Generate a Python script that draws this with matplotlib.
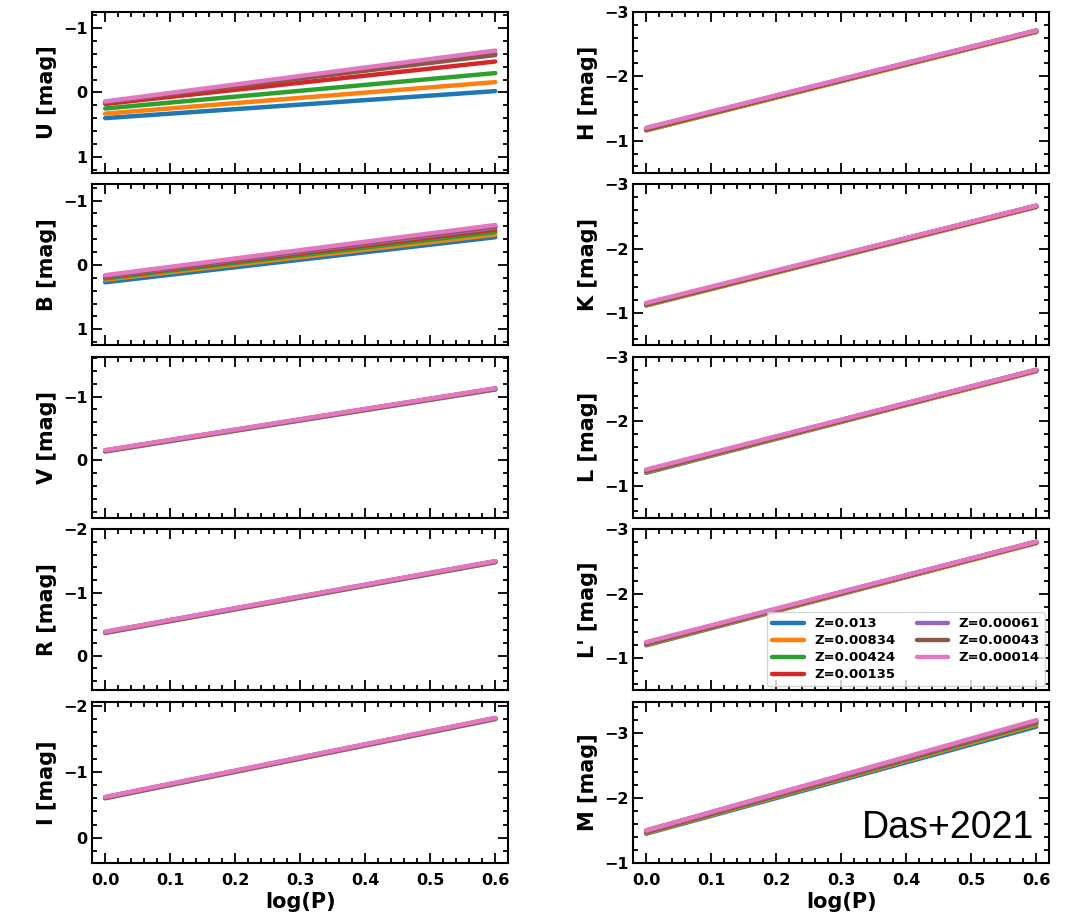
import numpy as np
import matplotlib
matplotlib.use("Agg")
import matplotlib.pyplot as plt
from matplotlib.ticker import MultipleLocator, AutoMinorLocator

# metallicities (legend labels)
Z_labels = ["Z=0.013", "Z=0.00834", "Z=0.00424", "Z=0.00135",
            "Z=0.00061", "Z=0.00043", "Z=0.00014"]

# period range
logP = [0.0, 0.6]

# magnitudes at logP = 0.0 and logP = 0.6 for each Z
U_start = [0.40, 0.33, 0.25, 0.18, 0.15, 0.15, 0.14]
U_end   = [-0.02, -0.16, -0.30, -0.48, -0.60, -0.58, -0.65]
B_start = [0.27, 0.23, 0.21, 0.19, 0.18, 0.17, 0.16]
B_end   = [-0.43, -0.47, -0.51, -0.55, -0.58, -0.60, -0.62]
V_start = [-0.14, -0.145, -0.15, -0.15, -0.155, -0.155, -0.16]
V_end   = [-1.11, -1.115, -1.12, -1.12, -1.125, -1.125, -1.13]
R_start = [-0.36, -0.365, -0.37, -0.37, -0.375, -0.375, -0.38]
R_end   = [-1.48, -1.485, -1.49, -1.49, -1.495, -1.495, -1.50]
I_start = [-0.60, -0.605, -0.61, -0.61, -0.615, -0.615, -0.62]
I_end   = [-1.80, -1.805, -1.81, -1.81, -1.815, -1.815, -1.82]
H_start = [-1.16, -1.16, -1.17, -1.18, -1.19, -1.19, -1.20]
H_end   = [-2.69, -2.69, -2.70, -2.70, -2.71, -2.71, -2.71]
K_start = [-1.12, -1.12, -1.13, -1.14, -1.15, -1.15, -1.16]
K_end   = [-2.65, -2.65, -2.66, -2.66, -2.67, -2.67, -2.67]
L_start = [-1.20, -1.21, -1.22, -1.23, -1.24, -1.24, -1.25]
L_end   = [-2.78, -2.78, -2.79, -2.79, -2.80, -2.80, -2.80]
Lp_start = [-1.20, -1.21, -1.22, -1.23, -1.24, -1.24, -1.25]
Lp_end   = [-2.79, -2.79, -2.80, -2.80, -2.81, -2.81, -2.81]
M_start = [-1.45, -1.46, -1.47, -1.48, -1.49, -1.50, -1.50]
M_end   = [-3.10, -3.13, -3.15, -3.17, -3.18, -3.19, -3.20]

bands_left  = [("U", U_start, U_end, (1.25, -1.25)),
               ("B", B_start, B_end, (1.25, -1.25)),
               ("V", V_start, V_end, (0.9, -1.62)),
               ("R", R_start, R_end, (0.55, -2.0)),
               ("I", I_start, I_end, (0.38, -2.06))]
bands_right = [("H", H_start, H_end, (-0.5, -3.0)),
               ("K", K_start, K_end, (-0.5, -3.0)),
               ("L", L_start, L_end, (-0.5, -3.0)),
               ("L'", Lp_start, Lp_end, (-0.5, -3.0)),
               ("M", M_start, M_end, (-1.0, -3.48))]

colors = plt.rcParams['axes.prop_cycle'].by_key()['color']

fig = plt.figure(figsize=(10.84, 9.18), dpi=100)
gs = fig.add_gridspec(5, 2, left=0.085, right=0.968, top=0.987, bottom=0.06,
                      hspace=0.072, wspace=0.30)

axes = []
for col, bands in enumerate([bands_left, bands_right]):
    for row, (name, ys, ye, lim) in enumerate(bands):
        ax = fig.add_subplot(gs[row, col])
        axes.append(ax)
        for i in range(len(Z_labels)):
            ax.plot(logP, [ys[i], ye[i]], color=colors[i], lw=3.2,
                    solid_capstyle='round', label=Z_labels[i])
        ax.set_xlim(-0.02, 0.62)
        ax.set_ylim(lim)
        ax.xaxis.set_major_locator(MultipleLocator(0.1))
        ax.xaxis.set_minor_locator(AutoMinorLocator(5))
        ax.yaxis.set_major_locator(MultipleLocator(1))
        ax.yaxis.set_minor_locator(AutoMinorLocator(5))
        ax.tick_params(which='both', direction='in', top=True, right=True,
                       width=1.3, labelsize=11.5)
        ax.tick_params(which='major', length=7)
        ax.tick_params(which='minor', length=3.5)
        ax.tick_params(axis='x', pad=7)
        for sp in ax.spines.values():
            sp.set_linewidth(1.5)
        for lab in ax.get_yticklabels() + ax.get_xticklabels():
            lab.set_fontweight('bold')
        ax.set_ylabel(name + " [mag]", fontsize=15, fontweight='bold')
        if row == 4:
            ax.set_xlabel("log(P)", fontsize=15, fontweight='bold', labelpad=3)
        else:
            ax.tick_params(labelbottom=False)
        if name == "L'":
            ax.legend(loc='lower right', ncol=2, prop={'size': 9.5, 'weight': 'bold'},
                      handlelength=2.4, columnspacing=1.6, labelspacing=0.3,
                      borderaxespad=0.3)
        if name == "M":
            ax.text(0.965, 0.22, "Das+2021", transform=ax.transAxes, ha='right',
                    va='center', fontsize=27, family='Liberation Sans')

fig.savefig("out.png", dpi=100)
